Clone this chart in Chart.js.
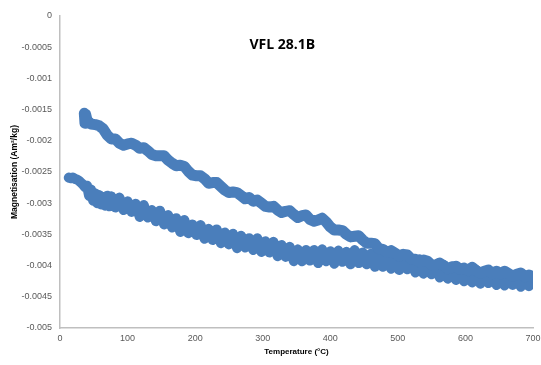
<!DOCTYPE html>
<html>
<head>
<meta charset="utf-8">
<script src="https://cdn.jsdelivr.net/npm/chart.js@4.4.0/dist/chart.umd.min.js"></script>
<style>
	html, body { margin: 0; padding: 0; background: #fff; }
	#wrap { width: 541px; height: 365px; }
</style>
</head>
<body>
<div id="wrap"><canvas id="vflChart" width="541" height="365"></canvas></div>
<script>
// Upper band (first run) - temperature (°C) and magnetisation (Am²/kg)
var upperTemp = [36, 37, 38, 40, 46, 52, 58, 64, 70, 76, 82, 88, 94, 100, 106, 112, 118, 124, 130, 136,
	142, 148, 154, 160, 166, 172, 178, 184, 190, 196, 202, 208, 214, 220, 226, 232, 238, 244, 250, 256,
	262, 268, 274, 280, 286, 292, 298, 304, 310, 316, 322, 328, 334, 340, 346, 352, 358, 364, 370, 376,
	382, 388, 394, 400, 406, 412, 418, 424, 430, 436, 442, 448, 454, 460, 466, 472, 478, 484, 490, 496,
	502, 508, 514, 520, 526, 532, 538, 544, 550, 556, 562, 568, 574, 580, 586, 592, 598, 604, 610, 616,
	622, 628, 634, 640, 646, 652, 658, 664, 670, 676, 682, 688, 694, 700];
var upperMag = [-0.00156, -0.00172, -0.00158, -0.00167, -0.00173, -0.00174, -0.00176, -0.00181, -0.00191, -0.00197,
	-0.00197, -0.00204, -0.00207, -0.00205, -0.00204, -0.00207, -0.00212, -0.00211, -0.00216, -0.00222,
	-0.00224, -0.00224, -0.00224, -0.00231, -0.00236, -0.00240, -0.00239, -0.00241, -0.00249, -0.00255,
	-0.00256, -0.00256, -0.00261, -0.00268, -0.00267, -0.00267, -0.00273, -0.00279, -0.00283, -0.00282,
	-0.00283, -0.00288, -0.00293, -0.00291, -0.00297, -0.00295, -0.00300, -0.00305, -0.00306, -0.00305,
	-0.00311, -0.00315, -0.00313, -0.00312, -0.00318, -0.00323, -0.00320, -0.00319, -0.00326, -0.00329,
	-0.00327, -0.00324, -0.00330, -0.00338, -0.00343, -0.00343, -0.00344, -0.00350, -0.00354, -0.00353,
	-0.00352, -0.00359, -0.00364, -0.00364, -0.00365, -0.00373, -0.00374, -0.00379, -0.00376, -0.00380,
	-0.00385, -0.00382, -0.00383, -0.00390, -0.00390, -0.00394, -0.00391, -0.00393, -0.00399, -0.00399,
	-0.00396, -0.00400, -0.00405, -0.00403, -0.00401, -0.00406, -0.00404, -0.00408, -0.00403, -0.00408,
	-0.00412, -0.00409, -0.00407, -0.00413, -0.00409, -0.00413, -0.00409, -0.00413, -0.00417, -0.00414,
	-0.00412, -0.00418, -0.00415, -0.00418];

// Lower band (second run)
var lowerTemp = [13, 16, 19, 22, 25, 28, 31, 34, 37, 40, 43, 46, 49, 52, 55, 58, 61, 64, 67, 70,
	73, 76, 82, 88, 94, 100, 106, 112, 118, 124, 130, 136, 142, 148, 154, 160, 166, 172, 178, 184,
	190, 196, 202, 208, 214, 220, 226, 232, 238, 244, 250, 256, 262, 268, 274, 280, 286, 292, 298, 304,
	310, 316, 322, 328, 334, 340, 346, 352, 358, 364, 370, 376, 382, 388, 394, 400, 406, 412, 418, 424,
	430, 436, 442, 448, 454, 460, 466, 472, 478, 484, 490, 496, 502, 508, 514, 520, 526, 532, 538, 544,
	550, 556, 562, 568, 574, 580, 586, 592, 598, 604, 610, 616, 622, 628, 634, 640, 646, 652, 658, 664,
	670, 676, 682, 688, 694, 700];
var lowerMag = [-0.00259, -0.00260, -0.00259, -0.00261, -0.00262, -0.00264, -0.00267, -0.00270, -0.00274, -0.00272,
	-0.00288, -0.00278, -0.00296, -0.00284, -0.00300, -0.00287, -0.00302, -0.00290, -0.00304, -0.00288,
	-0.00305, -0.00289, -0.00307, -0.00291, -0.00311, -0.00297, -0.00314, -0.00301, -0.00322, -0.00303,
	-0.00323, -0.00311, -0.00329, -0.00312, -0.00334, -0.00319, -0.00339, -0.00324, -0.00346, -0.00327,
	-0.00348, -0.00334, -0.00351, -0.00335, -0.00357, -0.00341, -0.00359, -0.00342, -0.00364, -0.00347,
	-0.00366, -0.00349, -0.00372, -0.00352, -0.00371, -0.00356, -0.00375, -0.00356, -0.00378, -0.00361,
	-0.00379, -0.00362, -0.00385, -0.00367, -0.00386, -0.00370, -0.00393, -0.00374, -0.00393, -0.00375,
	-0.00392, -0.00375, -0.00396, -0.00374, -0.00393, -0.00377, -0.00397, -0.00376, -0.00394, -0.00378,
	-0.00398, -0.00375, -0.00396, -0.00379, -0.00398, -0.00381, -0.00402, -0.00382, -0.00402, -0.00386,
	-0.00405, -0.00385, -0.00407, -0.00387, -0.00406, -0.00391, -0.00411, -0.00390, -0.00413, -0.00394,
	-0.00414, -0.00399, -0.00419, -0.00399, -0.00421, -0.00401, -0.00423, -0.00405, -0.00425, -0.00405,
	-0.00427, -0.00407, -0.00429, -0.00411, -0.00428, -0.00412, -0.00431, -0.00412, -0.00432, -0.00415,
	-0.00431, -0.00417, -0.00434, -0.00417, -0.00433, -0.00421];

var chartTitle = 'VFL 28.1B';
var xTitle = 'Temperature (°C)';
var yTitle = 'Magnetisation (Am²/kg)';

var bandColour = '#4a7ebb';
var axisColour = '#bfbfbf';
var tickColour = '#595959';

function toPoints(xs, ys) {
	var pts = [];
	for (var i = 0; i < xs.length; i++) {
		pts.push({ x: xs[i], y: ys[i] });
	}
	return pts;
}

// Title sits inside the plot area like the Excel original
var innerTitle = {
	id: 'innerTitle',
	afterDraw: function (chart) {
		var ctx = chart.ctx;
		var area = chart.chartArea;
		ctx.save();
		ctx.font = 'bold 14px "Open Sans", sans-serif';
		ctx.fillStyle = '#000';
		ctx.textAlign = 'center';
		ctx.textBaseline = 'middle';
		ctx.fillText(chartTitle, area.left + (area.right - area.left) * 0.47, area.top + 29);
		ctx.restore();
	}
};

function bandStyle(width) {
	return {
		showLine: true,
		pointRadius: 0,
		borderWidth: width,
		borderColor: bandColour,
		backgroundColor: bandColour,
		borderJoinStyle: 'round',
		borderCapStyle: 'round',
		fill: false
	};
}

var vflChart = new Chart(document.getElementById('vflChart'), {
	type: 'scatter',
	data: {
		datasets: [
			Object.assign({ label: 'Upper', data: toPoints(upperTemp, upperMag) }, bandStyle(11)),
			Object.assign({ label: 'Lower', data: toPoints(lowerTemp, lowerMag) }, bandStyle(10))
		]
	},
	options: {
		responsive: false,
		animation: false,
		layout: { padding: { top: 16, right: 0, left: 10, bottom: 0 } },
		plugins: {
			legend: { display: false },
			tooltip: { enabled: false },
			title: { display: false }
		},
		scales: {
			x: {
				type: 'linear',
				min: 0,
				max: 700,
				ticks: {
					stepSize: 100,
					color: tickColour,
					font: { family: 'Liberation Sans', size: 9 },
					padding: 5,
					maxRotation: 0
				},
				grid: { display: false, drawTicks: false },
				border: { display: true, color: axisColour, width: 1.5 },
				title: {
					display: true,
					text: xTitle,
					color: '#000',
					font: { family: 'Liberation Sans', size: 8, weight: 'bold' },
					padding: { top: 3, bottom: 8 }
				},
				afterFit: function (scale) {
					scale.height = 37;
					scale.paddingRight = 8;
				}
			},
			y: {
				type: 'linear',
				min: -0.005,
				max: 0,
				ticks: {
					stepSize: 0.0005,
					color: tickColour,
					font: { family: 'Liberation Sans', size: 9 },
					padding: 8,
					callback: function (v) { return parseFloat(v.toFixed(4)).toString(); }
				},
				grid: { display: false, drawTicks: false },
				border: { display: true, color: axisColour, width: 1.5 },
				title: {
					display: true,
					text: yTitle,
					color: '#000',
					font: { family: 'Liberation Sans', size: 8.5, weight: 'bold' },
					padding: { top: 0, bottom: 0 }
				},
				afterFit: function (scale) { scale.width = 50; }
			}
		}
	},
	plugins: [innerTitle]
});
</script>
</body>
</html>
